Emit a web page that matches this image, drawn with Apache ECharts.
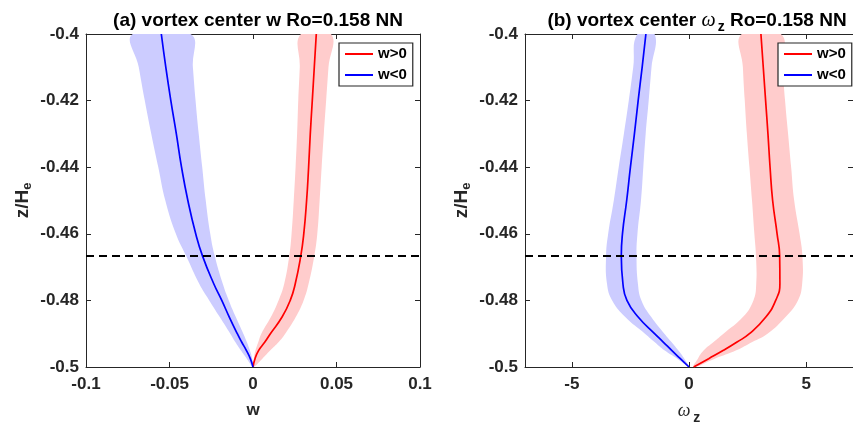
<!DOCTYPE html>
<html><head><meta charset="utf-8">
<script src="https://cdn.jsdelivr.net/npm/echarts@6/dist/echarts.min.js"></script>
<style>html,body{margin:0;padding:0;background:#fff}#c{width:853px;height:430px}</style>
</head><body><div id="c"></div>
<script>
// depth levels z/He (bottom to top)
const zLevels = [-0.5, -0.4975, -0.495, -0.4925, -0.49, -0.485, -0.48, -0.475, -0.4667, -0.46, -0.45, -0.44, -0.43, -0.42, -0.41, -0.40];
// panel (a): vertical velocity w
const wPos    = [0, 0.0012, 0.0034, 0.0071, 0.0104, 0.0174, 0.0223, 0.0253, 0.0286, 0.0304, 0.0321, 0.0333, 0.0343, 0.0355, 0.0367, 0.0379];
const wPosLo  = [0, 0.0005, 0.0015, 0.0032, 0.0050, 0.0107, 0.0153, 0.0187, 0.0217, 0.0231, 0.0244, 0.0255, 0.0264, 0.0271, 0.0280, 0.0287];
const wPosHi  = [0, 0.0056, 0.0104, 0.0154, 0.0193, 0.0256, 0.0303, 0.0333, 0.0367, 0.0385, 0.0399, 0.0411, 0.0424, 0.0438, 0.0452, 0.0467];
const wNeg    = [0, -0.0016, -0.0040, -0.0068, -0.0094, -0.0142, -0.0187, -0.0235, -0.0302, -0.0343, -0.0390, -0.0428, -0.0459, -0.0492, -0.0522, -0.0549];
const wNegLo  = [0, -0.0037, -0.0073, -0.0106, -0.0136, -0.0199, -0.0262, -0.0322, -0.0400, -0.0462, -0.0525, -0.0567, -0.0609, -0.0648, -0.0684, -0.0720];
const wNegHi  = [0, -0.0005, -0.0019, -0.0037, -0.0058, -0.0103, -0.0145, -0.0181, -0.0229, -0.0256, -0.0283, -0.0304, -0.0325, -0.0344, -0.0360, -0.0375];
// panel (b): vertical vorticity omega_z
const omPos   = [0.2, 0.84, 1.47, 2.05, 2.58, 3.28, 3.70, 3.88, 3.87, 3.76, 3.57, 3.46, 3.37, 3.27, 3.17, 3.07];
const omPosLo = [0.2, 0.38, 0.63, 1.05, 1.47, 2.30, 2.75, 2.87, 2.86, 2.79, 2.69, 2.58, 2.47, 2.38, 2.30, 2.25];
const omPosHi = [0.2, 1.10, 2.02, 2.70, 3.35, 4.12, 4.65, 4.83, 4.84, 4.72, 4.49, 4.36, 4.23, 4.10, 4.00, 3.92];
const omNeg   = [0, -0.37, -0.74, -1.10, -1.47, -2.17, -2.65, -2.82, -2.89, -2.84, -2.66, -2.50, -2.33, -2.17, -2.00, -1.84];
const omNegLo = [0, -0.50, -1.05, -1.47, -1.88, -2.72, -3.28, -3.50, -3.54, -3.45, -3.21, -3.00, -2.78, -2.57, -2.38, -2.20];
const omNegHi = [0, -0.20, -0.46, -0.75, -1.05, -1.61, -2.03, -2.18, -2.24, -2.20, -2.05, -1.95, -1.85, -1.72, -1.60, -1.47];
const dashZ = -0.4667;
const wRange = [-0.1, 0.1];
const omRange = [-7, 7];
const omTicks = [-5, 0, 5];

const FONT = 'Liberation Sans';
const AX = '#262626';
const chart = echarts.init(document.getElementById('c'));

function band(name, idx, lo, hi, color) {
  const data = zLevels.map((z, i) => [lo[i], hi[i], z]);
  return {
    type: 'custom', name, xAxisIndex: idx * 2, yAxisIndex: idx * 2, silent: true, z: 1,
    data, encode: { x: [0, 1], y: 2 }, clip: true,
    renderItem(params, api) {
      if (params.dataIndex !== 0) return null;
      const pts = [];
      for (let i = 0; i < data.length; i++) pts.push(api.coord([data[i][0], data[i][2]]));
      for (let i = data.length - 1; i >= 1; i--) pts.push(api.coord([data[i][1], data[i][2]]));
      return { type: 'polygon', shape: { points: pts, smooth: 0.45 }, style: { fill: color } };
    }
  };
}
function line(name, idx, xs, color) {
  return {
    type: 'line', name, xAxisIndex: idx * 2, yAxisIndex: idx * 2, z: 3,
    data: zLevels.map((z, i) => [xs[i], z]), symbol: 'none', smooth: 0.5,
    lineStyle: { color, width: 1.7 }, itemStyle: { color }
  };
}
function dash(idx, range) {
  return {
    type: 'line', name: 'dash', xAxisIndex: idx * 2, yAxisIndex: idx * 2, z: 4, silent: true,
    data: [[range[0], dashZ], [range[1], dashZ]], symbol: 'none',
    lineStyle: { color: '#000', width: 2, type: [8, 5] }
  };
}
const labelStyle = { color: AX, fontFamily: FONT, fontWeight: 'bold', fontSize: 17 };
function xAxes(grid, range, interval, nameRich, custom) {
  const main = {
    type: 'value', gridIndex: grid, min: range[0], max: range[1], position: 'bottom',
    axisLine: { onZero: false, lineStyle: { color: AX, width: 1 } },
    axisTick: { inside: true, length: 5, lineStyle: { color: AX } },
    axisLabel: Object.assign({ margin: 9 }, labelStyle),
    splitLine: { show: false },
    name: nameRich.text, nameLocation: 'middle', nameGap: 35,
    nameTextStyle: Object.assign({}, labelStyle, { rich: nameRich.rich })
  };
  const top = {
    type: 'value', gridIndex: grid, min: range[0], max: range[1], position: 'top',
    axisLine: { onZero: false, lineStyle: { color: AX, width: 1 } },
    axisTick: { inside: true, length: 5, lineStyle: { color: AX } },
    axisLabel: { show: false }, splitLine: { show: false }
  };
  if (custom) {
    main.axisTick.customValues = custom; main.axisLabel.customValues = custom;
    top.axisTick.customValues = custom;
  } else { main.interval = interval; top.interval = interval; }
  return [main, top];
}
function yAxes(grid) {
  const rich = { sub: { fontFamily: FONT, fontWeight: 'bold', fontSize: 13, color: AX, padding: [0, 0, -9, 0] } };
  return [{
    type: 'value', gridIndex: grid, min: -0.5, max: -0.4, interval: 0.02, position: 'left',
    axisLine: { onZero: false, lineStyle: { color: AX, width: 1 } },
    axisTick: { inside: true, length: 5, lineStyle: { color: AX } },
    axisLabel: Object.assign({ margin: 7 }, labelStyle),
    splitLine: { show: false },
    name: 'z/H{sub|e}', nameLocation: 'middle', nameGap: 54, nameRotate: 90,
    nameTextStyle: Object.assign({}, labelStyle, { fontSize: 19, rich })
  }, {
    type: 'value', gridIndex: grid, min: -0.5, max: -0.4, interval: 0.02, position: 'right',
    axisLine: { onZero: false, lineStyle: { color: AX, width: 1 } },
    axisTick: { inside: true, length: 5, lineStyle: { color: AX } },
    axisLabel: { show: false }, splitLine: { show: false }
  }];
}
const omRich = { text: '{o|ω}{s|z}', rich: {
  o: { fontFamily: 'Liberation Serif', fontStyle: 'italic', fontWeight: 'normal', fontSize: 18, color: AX },
  s: { fontFamily: FONT, fontWeight: 'bold', fontSize: 14, color: AX, padding: [0, 0, -14, 3] } } };
const wRich = { text: 'w', rich: {} };

const xa = [...xAxes(0, wRange, 0.05, wRich), ...xAxes(1, omRange, 5, omRich, omTicks)];
const ya = [...yAxes(0), ...yAxes(1)];
const legendBase = {
  orient: 'vertical', top: 43, icon: 'rect', itemWidth: 28, itemHeight: 2, itemGap: 3,
  padding: [2, 6, 2, 6], borderColor: AX, borderWidth: 1.2, backgroundColor: '#fff',
  textStyle: { fontFamily: FONT, fontWeight: 'bold', fontSize: 15, color: '#000', lineHeight: 18 },
  data: ['w>0', 'w<0'], selectedMode: false
};
chart.setOption({
  animation: false,
  backgroundColor: '#fff',
  title: [
    { text: '(a) vortex center w Ro=0.158 NN', left: 253, textAlign: 'center', top: 6,
      textStyle: { fontFamily: FONT, fontWeight: 'bold', fontSize: 19, color: '#000' } },
    { text: '(b) vortex center {o|ω}{s|z} Ro=0.158 NN', left: 692, textAlign: 'center', top: 6,
      textStyle: { fontFamily: FONT, fontWeight: 'bold', fontSize: 19, color: '#000',
        rich: { o: { fontFamily: 'Liberation Serif', fontStyle: 'italic', fontWeight: 'normal', fontSize: 20, color: '#000' },
                s: { fontFamily: FONT, fontWeight: 'bold', fontSize: 14, color: '#000', padding: [0, 0, -12, 2] } } } }
  ],
  legend: [Object.assign({ left: 339 }, legendBase), Object.assign({ left: 778 }, legendBase)],
  grid: [
    { left: 86, top: 34, width: 334, height: 333 },
    { left: 525, top: 34, width: 334, height: 333 }
  ],
  xAxis: xa.map((a, i) => Object.assign(a, { gridIndex: i < 2 ? 0 : 1 })),
  yAxis: ya.map((a, i) => Object.assign(a, { gridIndex: i < 2 ? 0 : 1 })),
  series: [
    band('bandPosA', 0, wPosLo, wPosHi, '#ffcccc'),
    band('bandNegA', 0, wNegLo, wNegHi, '#ccccff'),
    line('w>0', 0, wPos, '#ff0000'),
    line('w<0', 0, wNeg, '#0000ff'),
    dash(0, wRange),
    band('bandPosB', 1, omPosLo, omPosHi, '#ffcccc'),
    band('bandNegB', 1, omNegLo, omNegHi, '#ccccff'),
    line('w>0', 1, omPos, '#ff0000'),
    line('w<0', 1, omNeg, '#0000ff'),
    dash(1, omRange)
  ]
});
</script></body></html>
